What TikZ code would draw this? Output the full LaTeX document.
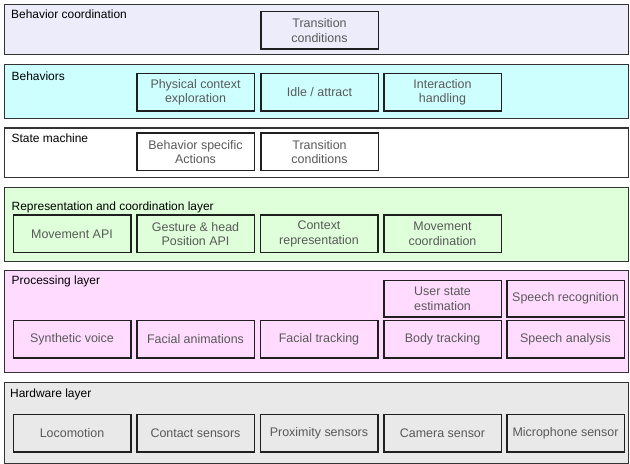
\documentclass[tikz,border=0pt]{standalone}
\usepackage{fontspec}
\setmainfont{Liberation Sans}
\begin{document}
\begin{tikzpicture}[x=1bp,y=-1bp,
  layerbox/.style={draw=black!80, line width=1.3bp, anchor=north west, inner sep=0pt, minimum width=624bp},
  title/.style={anchor=base west, inner sep=0pt, font=\fontsize{12}{14}\selectfont, text=black},
  unit/.style={draw=black!88, line width=1.5bp, anchor=north west, inner sep=0pt,
    minimum width=117.5bp, minimum height=37.5bp, align=center,
    font=\fontsize{12.5}{14.5}\selectfont, text=black!65}]
\definecolor{lavender}{RGB}{236,236,251}
\definecolor{paleCyan}{RGB}{206,255,255}
\definecolor{paleGreen}{RGB}{222,255,218}
\definecolor{palePink}{RGB}{255,220,255}
\definecolor{paleGray}{RGB}{233,233,233}
\useasboundingbox (0,0) rectangle (630,464);

% layers
\node[layerbox, fill=lavender,  minimum height=50bp]  (L1) at (4,4) {};
\node[layerbox, fill=paleCyan,  minimum height=54bp]  (L2) at (4,64) {};
\node[layerbox, fill=white,     minimum height=49.5bp] (L3) at (4,127.5) {};
\node[layerbox, fill=paleGreen, minimum height=74bp]  (L4) at (4,187) {};
\node[layerbox, fill=palePink,  minimum height=102bp] (L5) at (4,270) {};
\node[layerbox, fill=paleGray,  minimum height=80.5bp] (L6) at (4,382) {};

% layer titles
\node[title] (t1) at (11,19)    {Behavior coordination};
\node[title] (t2) at (11.5,80.5) {Behaviors};
\node[title] (t3) at (11.5,142.3) {State machine};
\node[title] (t4) at (11.5,211) {Representation and coordination layer};
\node[title] (t5) at (11.5,285) {Processing layer};
\node[title] (t6) at (10,397.7) {Hardware layer};

% behavior coordination
\node[unit] (bc1) at (260,11) {Transition\\conditions};

% behaviors
\node[unit] (b1) at (136,73) {Physical context\\exploration};
\node[unit] (b2) at (260,73) {Idle / attract};
\node[unit] (b3) at (383,73) {Interaction\\handling};

% state machine
\node[unit] (s1) at (136,132.5) {Behavior specific\\Actions};
\node[unit] (s2) at (260,132.5) {Transition\\conditions};

% representation and coordination
\node[unit] (r1) at (12.5,214.5) {Movement API};
\node[unit] (r2) at (136,214.5) {Gesture \& head\\Position API};
\node[unit] (r3) at (259.5,214.5) {Context\\representation};
\node[unit] (r4) at (383,214.5) {Movement\\coordination};

% processing
\node[unit, minimum height=36bp] (p1) at (383,280) {User state\\estimation};
\node[unit, minimum height=36bp] (p2) at (506,280) {Speech recognition};
\node[unit] (p3) at (12.5,319.5) {Synthetic voice};
\node[unit] (p4) at (136,319.5) {Facial animations};
\node[unit] (p5) at (259.5,319.5) {Facial tracking};
\node[unit] (p6) at (383,319.5) {Body tracking};
\node[unit] (p7) at (506,319.5) {Speech analysis};

% hardware
\node[unit] (h1) at (12.5,413.5) {Locomotion};
\node[unit] (h2) at (136,413.5) {Contact sensors};
\node[unit] (h3) at (259.5,413.5) {Proximity sensors};
\node[unit] (h4) at (383,413.5) {Camera sensor};
\node[unit] (h5) at (506,413.5) {Microphone sensor};
\end{tikzpicture}
\end{document}
